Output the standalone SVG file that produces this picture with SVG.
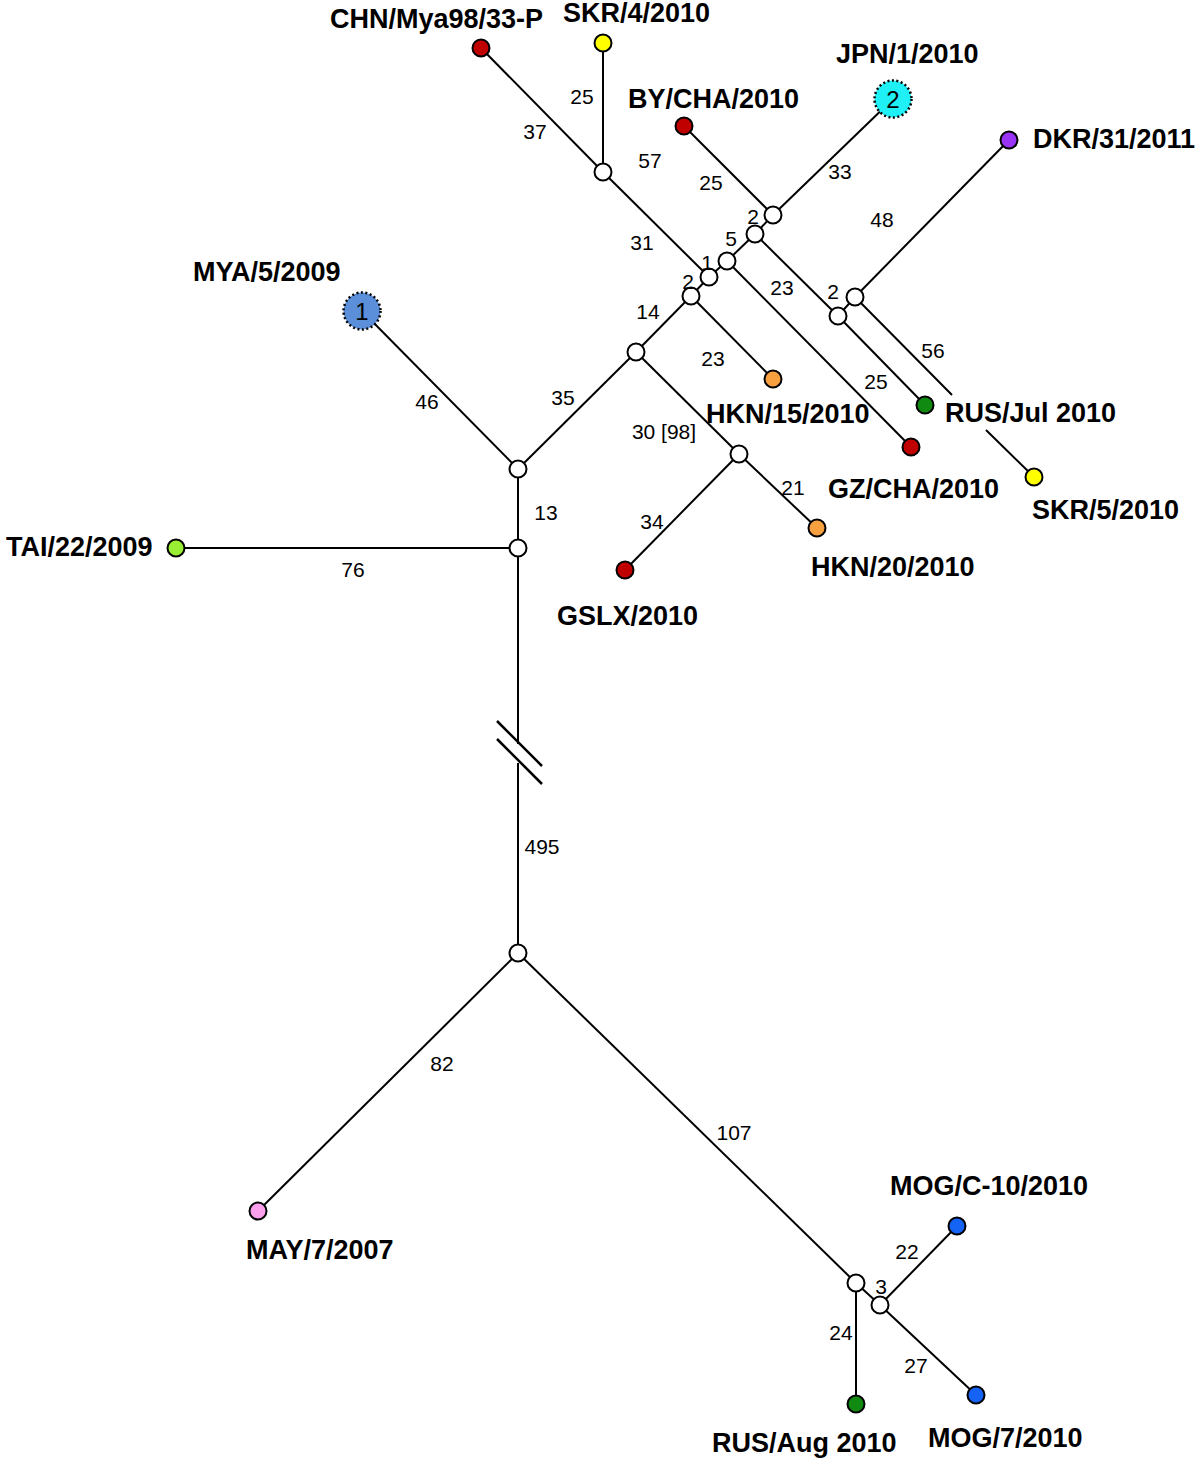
<svg xmlns="http://www.w3.org/2000/svg" width="1200" height="1465" viewBox="0 0 1200 1465">
<style>
.e{stroke:#000;stroke-width:2;fill:none}
.brk{stroke:#000;stroke-width:2.5;fill:none}
.n{fill:#fff;stroke:#000;stroke-width:2}
.leaf{stroke:#000;stroke-width:2}
.big{stroke:#000;stroke-width:2.5;stroke-dasharray:2 2.5}
.lab{font-family:"Liberation Sans",Arial,sans-serif;font-weight:bold;font-size:27px;fill:#000}
.num{font-family:"Liberation Sans",Arial,sans-serif;font-size:21px;fill:#000;text-anchor:middle}
.in{font-family:"Liberation Sans",Arial,sans-serif;font-size:24px;fill:#000;text-anchor:middle}
</style>
<rect width="1200" height="1465" fill="#fff"/>
<g id="connectors">
<line class="e" x1="518" y1="469" x2="362" y2="311"/>
<line class="e" x1="518" y1="469" x2="518" y2="548"/>
<line class="e" x1="518" y1="469" x2="636" y2="352"/>
<line class="e" x1="518" y1="548" x2="176" y2="548"/>
<path class="e" d="M518 548 L518 744 M518 763 L518 953"/>
<line class="brk" x1="497" y1="721" x2="542" y2="766"/>
<line class="brk" x1="497" y1="739" x2="542" y2="784"/>
<line class="e" x1="518" y1="953" x2="258" y2="1211"/>
<line class="e" x1="518" y1="953" x2="856" y2="1283"/>
<line class="e" x1="856" y1="1283" x2="856" y2="1404"/>
<line class="e" x1="856" y1="1283" x2="880" y2="1305"/>
<line class="e" x1="880" y1="1305" x2="957" y2="1226"/>
<line class="e" x1="880" y1="1305" x2="976" y2="1395"/>
<line class="e" x1="636" y1="352" x2="691" y2="296"/>
<line class="e" x1="636" y1="352" x2="739" y2="454"/>
<line class="e" x1="739" y1="454" x2="625" y2="570"/>
<line class="e" x1="739" y1="454" x2="817" y2="528"/>
<line class="e" x1="691" y1="296" x2="709" y2="277"/>
<line class="e" x1="691" y1="296" x2="773" y2="379"/>
<line class="e" x1="709" y1="277" x2="727" y2="261"/>
<line class="e" x1="709" y1="277" x2="603" y2="172"/>
<line class="e" x1="603" y1="172" x2="481" y2="48"/>
<line class="e" x1="603" y1="172" x2="603" y2="43"/>
<line class="e" x1="727" y1="261" x2="755" y2="234"/>
<line class="e" x1="727" y1="261" x2="911" y2="447"/>
<line class="e" x1="755" y1="234" x2="773" y2="215"/>
<line class="e" x1="755" y1="234" x2="838" y2="316"/>
<line class="e" x1="773" y1="215" x2="684" y2="126"/>
<line class="e" x1="773" y1="215" x2="893" y2="99"/>
<line class="e" x1="838" y1="316" x2="855" y2="297"/>
<line class="e" x1="838" y1="316" x2="925" y2="405"/>
<line class="e" x1="855" y1="297" x2="1009" y2="140"/>
<path class="e" d="M855 297 L952 395 M986 430 L1034 477"/>
</g>
<g id="internal-nodes">
<circle id="n1" class="n" cx="518" cy="469" r="8.5"/>
<circle id="n2" class="n" cx="518" cy="548" r="8.5"/>
<circle id="n3" class="n" cx="518" cy="953" r="8.5"/>
<circle id="n4" class="n" cx="636" cy="352" r="8.5"/>
<circle id="n5" class="n" cx="691" cy="296" r="8.5"/>
<circle id="n6" class="n" cx="709" cy="277" r="8.5"/>
<circle id="n7" class="n" cx="727" cy="261" r="8.5"/>
<circle id="n8" class="n" cx="755" cy="234" r="8.5"/>
<circle id="n9" class="n" cx="773" cy="215" r="8.5"/>
<circle id="n10" class="n" cx="838" cy="316" r="8.5"/>
<circle id="n11" class="n" cx="855" cy="297" r="8.5"/>
<circle id="n12" class="n" cx="603" cy="172" r="8.5"/>
<circle id="n13" class="n" cx="739" cy="454" r="8.5"/>
<circle id="n14" class="n" cx="856" cy="1283" r="8.5"/>
<circle id="n15" class="n" cx="880" cy="1305" r="8.5"/>
</g>
<g id="CHN-Mya98"><circle class="leaf" cx="481" cy="48" r="8.5" fill="#c00000"/><text class="lab" x="330" y="28">CHN/Mya98/33-P</text></g>
<g id="SKR-4"><circle class="leaf" cx="603" cy="43" r="8.5" fill="#ffff00"/><text class="lab" x="563" y="22">SKR/4/2010</text></g>
<g id="BY-CHA"><circle class="leaf" cx="684" cy="126" r="8.5" fill="#c00000"/><text class="lab" x="628" y="108">BY/CHA/2010</text></g>
<g id="JPN-1"><circle class="big" cx="893" cy="99" r="18.5" fill="#1ef0f5"/><text class="in" x="893" y="108">2</text><text class="lab" x="836" y="63">JPN/1/2010</text></g>
<g id="DKR-31"><circle class="leaf" cx="1009" cy="140" r="8.5" fill="#9933f5"/><text class="lab" x="1033" y="148">DKR/31/2011</text></g>
<g id="MYA-5"><circle class="big" cx="362" cy="311" r="18.5" fill="#5b8fd9"/><text class="in" x="362" y="320">1</text><text class="lab" x="193" y="281">MYA/5/2009</text></g>
<g id="HKN-15"><circle class="leaf" cx="773" cy="379" r="8.5" fill="#f7a040"/><text class="lab" x="706" y="423">HKN/15/2010</text></g>
<g id="RUS-Jul"><circle class="leaf" cx="925" cy="405" r="8.5" fill="#118a11"/><text class="lab" x="945" y="422">RUS/Jul 2010</text></g>
<g id="GZ-CHA"><circle class="leaf" cx="911" cy="447" r="8.5" fill="#c00000"/><text class="lab" x="828" y="498">GZ/CHA/2010</text></g>
<g id="SKR-5"><circle class="leaf" cx="1034" cy="477" r="8.5" fill="#ffff00"/><text class="lab" x="1032" y="519">SKR/5/2010</text></g>
<g id="TAI-22"><circle class="leaf" cx="176" cy="548" r="8.5" fill="#99ee33"/><text class="lab" x="6" y="556">TAI/22/2009</text></g>
<g id="HKN-20"><circle class="leaf" cx="817" cy="528" r="8.5" fill="#f7a040"/><text class="lab" x="811" y="576">HKN/20/2010</text></g>
<g id="GSLX"><circle class="leaf" cx="625" cy="570" r="8.5" fill="#c00000"/><text class="lab" x="557" y="625">GSLX/2010</text></g>
<g id="MAY-7"><circle class="leaf" cx="258" cy="1211" r="8.5" fill="#fca0ee"/><text class="lab" x="246" y="1259">MAY/7/2007</text></g>
<g id="MOG-C10"><circle class="leaf" cx="957" cy="1226" r="8.5" fill="#1463f5"/><text class="lab" x="890" y="1195">MOG/C-10/2010</text></g>
<g id="MOG-7"><circle class="leaf" cx="976" cy="1395" r="8.5" fill="#1463f5"/><text class="lab" x="928" y="1447">MOG/7/2010</text></g>
<g id="RUS-Aug"><circle class="leaf" cx="856" cy="1404" r="8.5" fill="#118a11"/><text class="lab" x="712" y="1452">RUS/Aug 2010</text></g>
<g id="edge-labels">
<text class="num" x="535" y="139">37</text>
<text class="num" x="582" y="104">25</text>
<text class="num" x="650" y="168">57</text>
<text class="num" x="711" y="190">25</text>
<text class="num" x="840" y="179">33</text>
<text class="num" x="882" y="227">48</text>
<text class="num" x="753" y="224">2</text>
<text class="num" x="731" y="246">5</text>
<text class="num" x="707" y="270">1</text>
<text class="num" x="688" y="289">2</text>
<text class="num" x="642" y="250">31</text>
<text class="num" x="648" y="319">14</text>
<text class="num" x="782" y="295">23</text>
<text class="num" x="833" y="299">2</text>
<text class="num" x="933" y="358">56</text>
<text class="num" x="713" y="366">23</text>
<text class="num" x="876" y="389">25</text>
<text class="num" x="427" y="409">46</text>
<text class="num" x="563" y="405">35</text>
<text class="num" x="664" y="439">30 [98]</text>
<text class="num" x="793" y="495">21</text>
<text class="num" x="546" y="520">13</text>
<text class="num" x="652" y="529">34</text>
<text class="num" x="353" y="577">76</text>
<text class="num" x="542" y="854">495</text>
<text class="num" x="442" y="1071">82</text>
<text class="num" x="734" y="1140">107</text>
<text class="num" x="907" y="1259">22</text>
<text class="num" x="881" y="1294">3</text>
<text class="num" x="841" y="1340">24</text>
<text class="num" x="916" y="1373">27</text>
</g>
</svg>
